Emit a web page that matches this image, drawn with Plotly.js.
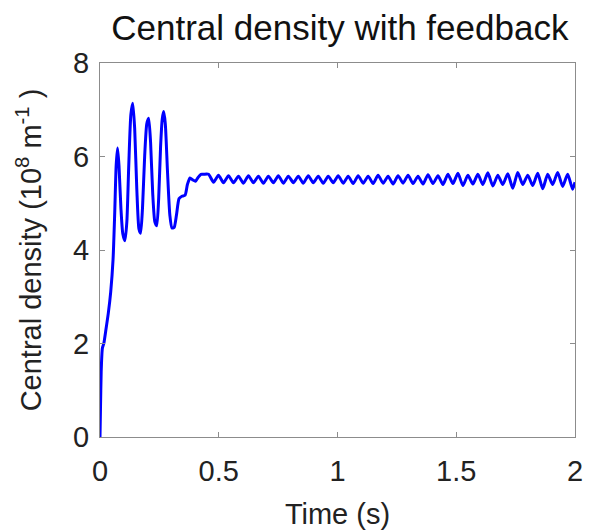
<!DOCTYPE html>
<html>
<head>
<meta charset="utf-8">
<script src="https://cdn.plot.ly/plotly-3.0.1.min.js"></script>
<style>html,body{margin:0;padding:0;background:#fff;}#chart{width:590px;height:532px;}</style>
</head>
<body>
<div id="chart"></div>
<script>
// Transient part: time (s) and central density (1e8 m^-1)
const tStart = [0, 0.002, 0.005, 0.010, 0.016, 0.025, 0.035, 0.045, 0.055, 0.062, 0.068, 0.074, 0.080, 0.088, 0.096, 0.105,
  0.113, 0.121, 0.130, 0.138, 0.146, 0.155, 0.164, 0.171, 0.179, 0.188, 0.197, 0.205, 0.213, 0.222, 0.231, 0.239,
  0.247, 0.255, 0.262, 0.268, 0.275, 0.284, 0.294, 0.303, 0.312, 0.322, 0.333, 0.345, 0.358, 0.368, 0.379, 0.390,
  0.402, 0.414, 0.425, 0.436];
const nStart = [0, 0.6, 1.4, 1.9, 2.0, 2.3, 2.65, 3.1, 3.8, 4.8, 5.8, 6.18, 5.8, 4.9, 4.35, 4.2,
  4.6, 5.8, 6.9, 7.14, 6.6, 5.3, 4.45, 4.36, 4.9, 6.0, 6.7, 6.82, 6.3, 5.2, 4.6, 4.52,
  5.1, 6.2, 6.8, 6.96, 6.7, 5.7, 4.75, 4.47, 4.48, 4.75, 5.1, 5.15, 5.17, 5.4, 5.54, 5.5,
  5.47, 5.56, 5.62, 5.62];
// Steady regulated part: alternating crests and troughs
const tSteady = [0.457, 0.478, 0.499, 0.520, 0.541, 0.562, 0.583, 0.604, 0.625, 0.646, 0.667, 0.688, 0.709, 0.730,
  0.751, 0.772, 0.793, 0.814, 0.835, 0.856, 0.877, 0.898, 0.919, 0.940, 0.961, 0.982, 1.003, 1.024, 1.045, 1.066,
  1.087, 1.108, 1.129, 1.150, 1.171, 1.192, 1.213, 1.234, 1.255, 1.276, 1.297, 1.318, 1.339, 1.360, 1.381, 1.402,
  1.423, 1.444, 1.465, 1.486, 1.507, 1.528, 1.549, 1.570, 1.591, 1.612, 1.633, 1.654, 1.675, 1.696, 1.717, 1.738,
  1.759, 1.780, 1.801, 1.822, 1.843, 1.864, 1.885, 1.906, 1.927, 1.948, 1.969, 1.990, 2.000];
const nSteady = [5.62, 5.45, 5.60, 5.44, 5.59, 5.44, 5.58, 5.43, 5.59, 5.44, 5.58, 5.43, 5.58, 5.44,
  5.59, 5.43, 5.58, 5.44, 5.58, 5.43, 5.59, 5.44, 5.58, 5.43, 5.58, 5.44, 5.59, 5.43, 5.58, 5.42,
  5.59, 5.43, 5.58, 5.42, 5.60, 5.43, 5.58, 5.41, 5.59, 5.43, 5.60, 5.42, 5.58, 5.41, 5.61, 5.42,
  5.59, 5.40, 5.62, 5.42, 5.64, 5.38, 5.60, 5.41, 5.62, 5.40, 5.65, 5.37, 5.60, 5.40, 5.63, 5.32,
  5.66, 5.40, 5.60, 5.38, 5.64, 5.31, 5.62, 5.40, 5.66, 5.36, 5.62, 5.30, 5.45];

const t = tStart.concat(tSteady);
const n = nStart.concat(nSteady);

const xTicks = [0, 0.5, 1, 1.5, 2];
const xTickText = ['0', '0.5', '1', '1.5', '2'];
const yTicks = [0, 2, 4, 6, 8];

const FONT = 'Liberation Sans, Arial, sans-serif';
const axisCommon = {
  showgrid: false, zeroline: false, showline: true, linecolor: '#8c8c8c', linewidth: 1,
  mirror: 'allticks', ticks: 'inside', ticklen: 5, tickcolor: '#8c8c8c', tickwidth: 1,
  tickfont: {family: FONT, size: 29, color: '#222'}
};

Plotly.newPlot('chart', [{
  x: t, y: n, type: 'scatter', mode: 'lines',
  line: {color: '#0000ff', width: 3, shape: 'spline', smoothing: 0.6},
  hoverinfo: 'skip'
}], {
  width: 590, height: 532,
  margin: {l: 100, r: 15, t: 63, b: 95},
  paper_bgcolor: '#fff', plot_bgcolor: '#fff',
  showlegend: false,
  title: {text: 'Central density with feedback', x: 0.576, xanchor: 'center', y: 0.947, yanchor: 'middle',
    font: {family: FONT, size: 35, color: '#111'}},
  xaxis: Object.assign({}, axisCommon, {
    range: [0, 2], tickvals: xTicks, ticktext: xTickText, ticklabelstandoff: 8,
    title: {text: 'Time (s)', standoff: 17, font: {family: FONT, size: 29, color: '#222'}}
  }),
  yaxis: Object.assign({}, axisCommon, {
    range: [0, 8], tickvals: yTicks, ticklabelstandoff: 4,
    title: {text: 'Central density (10<sup>8</sup> m<sup>-1</sup> )', standoff: 22,
      font: {family: FONT, size: 29, color: '#222'}}
  })
}, {staticPlot: true, displayModeBar: false});
</script>
</body>
</html>
